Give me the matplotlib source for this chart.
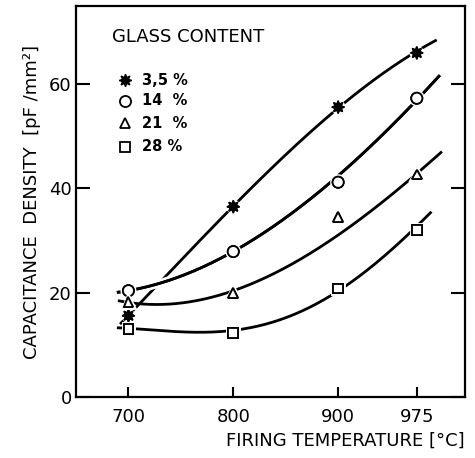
import numpy as np
import matplotlib
matplotlib.use('Agg')
import matplotlib.pyplot as plt
import matplotlib.patheffects as pe

# measured points
temps = [700, 800, 900, 975]
cap_3_5 = [15.6, 36.5, 55.6, 66.0]
cap_14 = [20.4, 27.9, 41.2, 57.3]
cap_21 = [18.3, 20.0, 34.6, 42.7]
cap_28 = [13.1, 12.3, 20.8, 32.1]

# hand-drawn trend curves
curve_3_5_x = [692, 700, 722, 800, 900, 975, 994]
curve_3_5_y = [14.0, 15.6, 20.4, 36.5, 55.6, 66.0, 68.7]
curve_14_x = [689, 700, 722, 800, 900, 975, 997]
curve_14_y = [20.0, 20.4, 21.5, 27.9, 42.3, 57.3, 61.5]
curve_21_x = [690, 713, 750, 800, 846, 900, 975, 999]
curve_21_y = [18.3, 17.9, 18.6, 20.0, 24.0, 31.6, 42.7, 47.1]
curve_28_x = [689, 700, 750, 800, 857, 900, 975, 989]
curve_28_y = [13.3, 13.1, 12.8, 12.5, 15.6, 20.8, 32.1, 36.0]

labels = ['3,5 %', '14  %', '21  %', '28 %']
xticks = [700, 800, 900, 975]
yticks = [0, 20, 40, 60]


def smooth(xk, yk, deg=3, n=300):
    """Smooth polynomial trend through the read curve points"""
    x0 = np.mean(xk)
    c = np.polyfit(np.asarray(xk) - x0, yk, deg)
    xs = np.linspace(min(xk), max(xk), n)
    return xs, np.polyval(c, xs - x0)


plt.rcParams['font.family'] = ['DejaVu Sans']

fig = plt.figure(figsize=(4.75, 4.58), dpi=100)
ax = fig.add_axes([0.160, 0.133, 0.819, 0.854])

lw = 2.0
white_gap = [pe.withStroke(linewidth=6, foreground='white'), pe.Normal()]

curves = [
    (curve_3_5_x, curve_3_5_y, 3, 2, None),
    (curve_14_x, curve_14_y, 3, 3, white_gap),
    (curve_21_x, curve_21_y, 3, 2, None),
    (curve_28_x, curve_28_y, 4, 2, None),
]
for cx, cy, deg, z, eff in curves:
    xs, ys = smooth(cx, cy, deg)
    ax.plot(xs, ys, color='black', lw=lw, zorder=z, solid_capstyle='butt',
            path_effects=eff)

marker_gap = [pe.withStroke(linewidth=3.5, foreground='white'), pe.Normal()]
styles = [
    (cap_3_5, dict(marker=(8, 1, 0), ms=9, mfc='black', mec='black')),
    (cap_14, dict(marker='o', ms=8, mfc='white', mec='black', mew=1.3)),
    (cap_21, dict(marker='^', ms=7, mfc='white', mec='black', mew=1.3)),
    (cap_28, dict(marker='s', ms=7, mfc='white', mec='black', mew=1.3)),
]
for vals, st in styles:
    ax.plot(temps, vals, ls='none', zorder=5, path_effects=marker_gap, **st)

# legend drawn as in the original figure
ax.text(0.093, 0.92, 'GLASS CONTENT', transform=ax.transAxes, fontsize=13,
        va='center', ha='left')
leg_y = [0.81, 0.757, 0.70, 0.64]
for (vals, st), lab, ly in zip(styles, labels, leg_y):
    ax.plot([0.127], [ly], transform=ax.transAxes, ls='none', clip_on=False, **st)
    ax.text(0.17, ly, lab, transform=ax.transAxes, fontsize=10.5,
            va='center', ha='left', fontweight='bold')

ax.set_xlim(650, 1021)
ax.set_ylim(0, 75)
ax.set_xticks(xticks)
ax.set_yticks(yticks)
ax.tick_params(axis='both', direction='in', labelsize=13, width=1.5)
ax.tick_params(axis='y', length=10, pad=3, right=True)
ax.tick_params(axis='x', length=7, pad=8)
for s in ax.spines.values():
    s.set_linewidth(1.6)

ax.set_xlabel('FIRING TEMPERATURE [°C]', fontsize=13, loc='right', labelpad=4)
ax.set_ylabel('CAPACITANCE  DENSITY  [pF /mm²]', fontsize=13, labelpad=6)

fig.savefig('out.png', dpi=100)
